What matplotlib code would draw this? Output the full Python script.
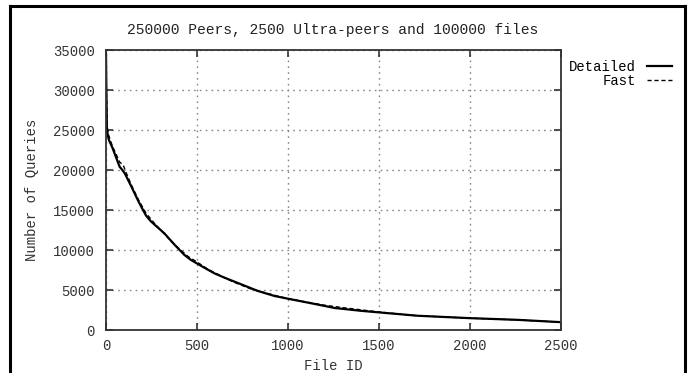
import matplotlib
matplotlib.use("Agg")
import matplotlib.pyplot as plt
from matplotlib.lines import Line2D

plt.rcParams['font.family'] = ['Liberation Mono', 'DejaVu Sans Mono']

# values
detailed_x = [0, 2, 5, 15, 35, 55, 75, 90, 105, 140, 180, 220, 246, 280, 320, 375,
              430, 467, 540, 596, 651, 743, 835, 926, 1018, 1110, 1175, 1257, 1400,
              1500, 1713, 2000, 2261, 2500]
detailed_y = [34500, 30000, 25000, 23800, 22800, 21600, 20400, 20000, 19500, 17900,
              16000, 14300, 13600, 12900, 12100, 10700, 9400, 8750, 7790, 7080, 6540,
              5710, 4875, 4250, 3830, 3420, 3125, 2750, 2400, 2200, 1780, 1480, 1270, 980]

fast_x = [0, 2, 6, 15, 35, 55, 75, 95, 110, 140, 180, 220, 260, 300, 350, 400, 450,
          500, 560, 620, 700, 800, 900, 1000, 1100, 1200, 1300, 1500, 1700, 2000,
          2250, 2500]
fast_y = [34800, 30500, 25500, 24300, 23000, 22000, 21000, 20600, 19700, 18100,
          16200, 14600, 13500, 12500, 11300, 10200, 9200, 8500, 7600, 6900, 6000,
          5100, 4500, 3900, 3500, 3100, 2800, 2250, 1800, 1480, 1270, 980]

x_ticks = [0, 500, 1000, 1500, 2000, 2500]
y_ticks = [0, 5000, 10000, 15000, 20000, 25000, 30000, 35000]

W, H = 690, 373
fig = plt.figure(figsize=(W / 100, H / 100), dpi=100)
ax = fig.add_axes([106 / W, 43 / H, 455 / W, 280 / H])

ax.plot(detailed_x, detailed_y, color='black', lw=1.6, label='Detailed')
ax.plot(fast_x, fast_y, color='black', lw=1.0, dashes=(3, 2), label='Fast')

ax.set_xlim(0, 2500)
ax.set_ylim(0, 35000)
ax.set_xticks(x_ticks)
ax.set_yticks(y_ticks)
ax.grid(True, color='#888888', lw=1.0, dashes=(1.2, 3))
ax.tick_params(direction='in', length=5, width=1.2, top=True, right=True,
               labelsize=10, labelcolor='#333333', colors='#333333')
ax.tick_params(axis='x', pad=6.5)
ax.tick_params(axis='y', pad=8)
for s in ax.spines.values():
    s.set_linewidth(1.3)
    s.set_color('#333333')

ax.set_xlabel('File ID', fontsize=10, color='#333333')
ax.xaxis.set_label_coords(0.5, -(359 - 330) / 280)
ax.set_ylabel('Number of Queries', fontsize=10, color='#333333')
ax.yaxis.set_label_coords(-(106 - 39) / 455, 0.5)

fig.text(333 / W, 1 - 30 / H, '250000 Peers, 2500 Ultra-peers and 100000 files',
         ha='center', va='center', fontsize=10.5, color='#222222')

ax.legend(loc='upper right', bbox_to_anchor=(672 / W, 1 - 60 / H),
          bbox_transform=fig.transFigure, frameon=False, markerfirst=False,
          fontsize=10, handlelength=1.8, handletextpad=0.8, labelspacing=0.0,
          borderpad=0, borderaxespad=0)

# outer frame (left, top, right) running off the bottom edge
for xs, ys in [([10, 10], [H + 10, 6]), ([10, 685], [6, 6]), ([685, 685], [6, H + 10])]:
    fig.add_artist(Line2D([x / W for x in xs], [1 - y / H for y in ys],
                          color='black', lw=2.2, transform=fig.transFigure))

fig.savefig('out.png', dpi=100)
